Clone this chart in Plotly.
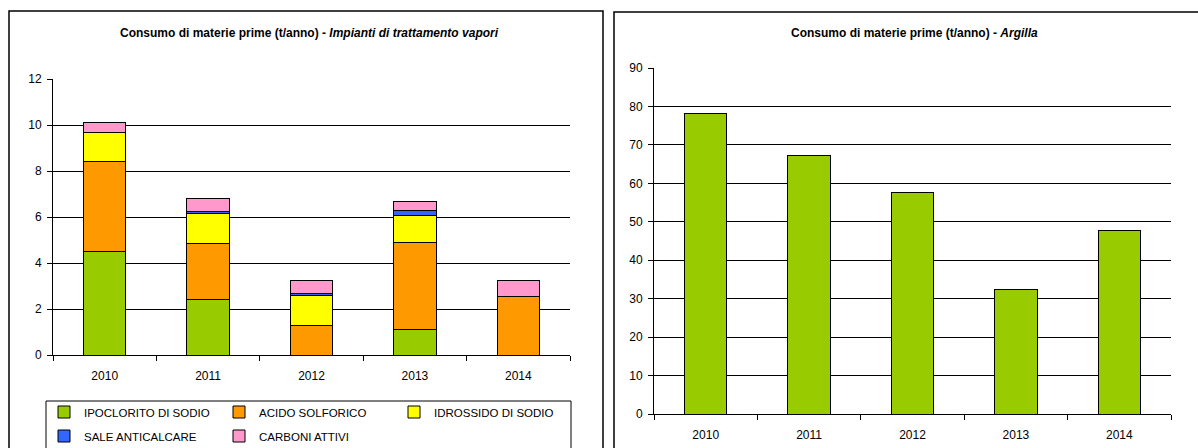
import plotly.graph_objects as go

# ---- data ----
years = ["2010", "2011", "2012", "2013", "2014"]
ipoclorito = [4.5, 2.4, None, 1.1, None]
acido = [3.92, 2.45, 1.3, 3.8, 2.55]
idrossido = [1.26, 1.3, 1.3, 1.17, None]
sale = [None, 0.07, 0.08, 0.23, None]
carboni = [0.45, 0.6, 0.58, 0.37, 0.71]
argilla = [78.1, 67.3, 57.6, 32.3, 47.8]

series_names = ["IPOCLORITO DI SODIO", "ACIDO SOLFORICO", "IDROSSIDO DI SODIO",
                "SALE ANTICALCARE", "CARBONI ATTIVI"]
series_vals = [ipoclorito, acido, idrossido, sale, carboni]
series_cols = ["#99CC00", "#FF9900", "#FFFF00", "#3366FF", "#FF99CC"]
series_legend = ["legend", "legend", "legend", "legend2", "legend2"]

title_left = "<b>Consumo di materie prime (t/anno) - <i>Impianti di trattamento vapori</i></b>"
title_right = "<b>Consumo di materie prime (t/anno) - <i>Argilla</i></b>"

# ---- geometry (pixels -> paper) ----
W, H = 1198, 448
ML, MR, MT, MB = 53, 27, 68, 34
PW = W - ML - MR
PH = H - MT - MB


def px(x):
    return (x - ML) / PW


def py(y):
    return (H - MB - y) / PH


FONT = "Liberation Sans, Arial, sans-serif"

fig = go.Figure()
for name, vals, col, lg in zip(series_names, series_vals, series_cols, series_legend):
    fig.add_trace(go.Bar(
        x=years, y=vals, name=name, xaxis="x", yaxis="y",
        marker=dict(color=col, line=dict(color="#000000", width=1)),
        legend=lg,
    ))

fig.add_trace(go.Bar(
    x=years, y=argilla, name="ARGILLA", xaxis="x2", yaxis="y2",
    marker=dict(color="#99CC00", line=dict(color="#000000", width=1)),
    showlegend=False,
))

axis_common = dict(
    showline=True, linecolor="#000000", linewidth=1,
    ticks="outside", ticklen=5, tickcolor="#000000",
    tickfont=dict(family=FONT, size=12, color="#000000"),
)

legend_common = dict(
    orientation="h", xanchor="left", yanchor="middle",
    entrywidth=130, entrywidthmode="pixels", bgcolor="rgba(0,0,0,0)",
    font=dict(family=FONT, size=11.5, color="#000000"), traceorder="normal",
)

fig.update_layout(
    width=W, height=H,
    margin=dict(l=ML, r=MR, t=MT, b=MB, autoexpand=False),
    paper_bgcolor="white", plot_bgcolor="white",
    barmode="stack", bargap=0.59,
    font=dict(family=FONT, size=12, color="#000000"),
    xaxis=dict(domain=[0, px(570)], type="category", tickson="boundaries",
               anchor="y", ticklabelstandoff=10, **axis_common),
    yaxis=dict(domain=[py(355), py(79)], range=[0, 12], dtick=2,
               showgrid=True, gridcolor="#000000", gridwidth=1,
               zeroline=False, anchor="x", ticklabelstandoff=3, **axis_common),
    xaxis2=dict(domain=[px(654), 1], type="category", tickson="boundaries",
                anchor="y2", ticklabelstandoff=10, **axis_common),
    yaxis2=dict(domain=[0, 1], range=[0, 90], dtick=10,
                showgrid=True, gridcolor="#000000", gridwidth=1,
                zeroline=False, anchor="x2", ticklabelstandoff=3, **axis_common),
    legend=dict(x=px(44), y=py(412), **legend_common),
    legend2=dict(x=px(44), y=py(436), **legend_common),
    annotations=[
        dict(text=title_left, xref="paper", yref="paper", x=px(309), y=py(33),
             showarrow=False, xanchor="center", yanchor="middle",
             font=dict(family=FONT, size=12, color="#000000")),
        dict(text=title_right, xref="paper", yref="paper", x=px(914), y=py(33),
             showarrow=False, xanchor="center", yanchor="middle",
             font=dict(family=FONT, size=12, color="#000000")),
    ],
    shapes=[
        dict(type="rect", xref="paper", yref="paper", x0=px(9), x1=px(603),
             y0=py(490), y1=py(11), line=dict(color="#000000", width=1.5), layer="below"),
        dict(type="rect", xref="paper", yref="paper", x0=px(614), x1=px(1215),
             y0=py(490), y1=py(12), line=dict(color="#000000", width=1.5), layer="below"),
        dict(type="rect", xref="paper", yref="paper", x0=px(46), x1=px(571),
             y0=py(490), y1=py(401), line=dict(color="#000000", width=1), layer="below"),
    ],
)

fig.write_html("out.html")
